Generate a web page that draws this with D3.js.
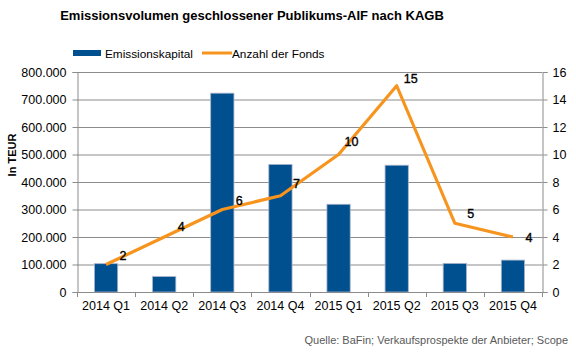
<!DOCTYPE html>
<html><head><meta charset="utf-8">
<script src="https://cdn.jsdelivr.net/npm/d3@7"></script>
<style>body{margin:0;background:#fff}svg{display:block;font-family:"Liberation Sans",Arial,sans-serif}</style>
</head><body><svg id="c" width="576" height="353"></svg>
<script>
const categories = ["2014 Q1","2014 Q2","2014 Q3","2014 Q4","2015 Q1","2015 Q2","2015 Q3","2015 Q4"];
const emissionskapital = [103000, 56000, 723000, 464000, 319000, 461000, 104000, 116000];
const anzahlFonds = [2, 4, 6, 7, 10, 15, 5, 4];
const leftTicks = [0,100000,200000,300000,400000,500000,600000,700000,800000];
const rightTicks = [0,2,4,6,8,10,12,14,16];
const labelOffsets = [[17,-9],[17,-10],[17,-9],[16,-12],[13,-13],[14,-7],[16,-9],[16,1]];

const svg = d3.select("#c");
const L = 77, R = 542, T = 72, B = 292;
const x = d3.scaleBand().domain(categories).range([L,R]).paddingInner(0.6).paddingOuter(0.3);
const xp = d3.scalePoint().domain(categories).range([L,R]).padding(0.5);
const yL = d3.scaleLinear().domain([0,800000]).range([B,T]);
const yR = d3.scaleLinear().domain([0,16]).range([B,T]);
const fmt = v => d3.format(",")(v).replace(/,/g,".");

// gridlines
svg.append("g").selectAll("line").data(leftTicks.slice(1)).join("line")
  .attr("x1",L).attr("x2",R).attr("y1",d=>yL(d)+0.5).attr("y2",d=>yL(d)+0.5)
  .attr("stroke","#8c8c8c").attr("stroke-width",1);

// bars
svg.append("g").selectAll("rect").data(emissionskapital).join("rect")
  .attr("x",(d,i)=>x(categories[i])).attr("width",x.bandwidth())
  .attr("y",d=>yL(d)).attr("height",d=>B-yL(d))
  .attr("fill","#004F8E").attr("stroke","#a9b4cc").attr("stroke-width",0.8);

// axes
const gL = svg.append("g").attr("transform",`translate(${L+0.5},0)`)
  .call(d3.axisLeft(yL).tickValues(leftTicks).tickFormat(fmt).tickSize(5).tickPadding(6));
const gR = svg.append("g").attr("transform",`translate(${R+0.5},0)`)
  .call(d3.axisRight(yR).tickValues(rightTicks).tickSize(5).tickPadding(5));
const gX = svg.append("g").attr("transform",`translate(0,${B+0.5})`)
  .call(d3.axisBottom(x).tickSize(0).tickPadding(9));
[gL,gR,gX].forEach(g=>{
  g.selectAll("path.domain").attr("stroke","#8c8c8c");
  g.selectAll(".tick line").attr("stroke","#8c8c8c");
  g.selectAll("text").attr("fill","#000").attr("font-size",12.5).attr("font-family","Liberation Sans, Arial, sans-serif");
});
gX.select("path.domain").attr("d",`M${L},0H${R}`);
// category separator ticks
const bounds = d3.range(categories.length+1).map(i=>L+(R-L)*i/categories.length);
svg.append("g").selectAll("line").data(bounds).join("line")
  .attr("x1",d=>Math.round(d)+0.5).attr("x2",d=>Math.round(d)+0.5).attr("y1",B).attr("y2",B+5)
  .attr("stroke","#8c8c8c");

// line
const line = d3.line().x((d,i)=>xp(categories[i])).y(d=>yR(d));
svg.append("path").datum(anzahlFonds).attr("d",line)
  .attr("fill","none").attr("stroke","#F7941E").attr("stroke-width",3.2).attr("stroke-linejoin","round");

// data labels
svg.append("g").selectAll("text").data(anzahlFonds).join("text")
  .attr("x",(d,i)=>xp(categories[i])+labelOffsets[i][0])
  .attr("y",(d,i)=>yR(d)+labelOffsets[i][1])
  .attr("text-anchor","middle").attr("dominant-baseline","central")
  .attr("font-size",12.5).attr("fill","#000").attr("stroke","#000").attr("stroke-width",0.35).text(d=>d);

// title
svg.append("text").attr("x",252).attr("y",20).attr("text-anchor","middle")
  .attr("font-size",13).attr("font-weight","bold").text("Emissionsvolumen geschlossener Publikums-AIF nach KAGB");

// legend
svg.append("rect").attr("x",73).attr("y",50).attr("width",28).attr("height",6).attr("fill","#004F8E");
svg.append("text").attr("x",105).attr("y",57.5).attr("font-size",11.8).text("Emissionskapital");
svg.append("line").attr("x1",202).attr("x2",232).attr("y1",53).attr("y2",53).attr("stroke","#F7941E").attr("stroke-width",3);
svg.append("text").attr("x",232).attr("y",57.5).attr("font-size",11.8).text("Anzahl der Fonds");

// y title
svg.append("text").attr("transform","translate(16,155) rotate(-90)").attr("text-anchor","middle")
  .attr("font-size",11).attr("font-weight","bold").text("In TEUR");

// source
svg.append("text").attr("x",568).attr("y",344).attr("text-anchor","end")
  .attr("font-size",11).attr("fill","#595959").text("Quelle: BaFin; Verkaufsprospekte der Anbieter; Scope");
</script></body></html>
